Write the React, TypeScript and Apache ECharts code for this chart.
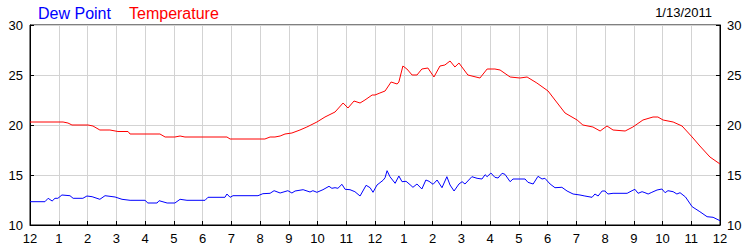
import React, { useEffect, useRef } from "react";
import * as echarts from "echarts";

const hourTicks: number[] = [0, 1, 2, 3, 4, 5, 6, 7, 8, 9, 10, 11, 12, 13, 14, 15, 16, 17, 18, 19, 20, 21, 22, 23, 24];
const yTicks: number[] = [10, 15, 20, 25, 30];

// [hour of day, °C]
const temperature: [number, number][] = [
  [0, 20.3], [1.15, 20.3], [1.32, 20.2], [1.46, 20.0], [2.02, 20.0], [2.19, 19.9], [2.43, 19.5],
  [2.78, 19.5], [3.06, 19.35], [3.41, 19.35], [3.48, 19.1], [4.52, 19.1], [4.7, 18.8], [5.04, 18.8],
  [5.22, 18.9], [5.39, 18.8], [6.85, 18.8], [6.96, 18.6], [8.17, 18.6], [8.35, 18.8], [8.52, 18.8],
  [8.7, 18.9], [8.87, 19.1], [9.11, 19.2], [9.39, 19.5], [9.63, 19.8], [9.98, 20.3], [10.26, 20.8],
  [10.61, 21.3], [10.89, 22.2], [11.06, 21.7], [11.27, 22.4], [11.48, 22.2], [11.65, 22.5],
  [11.9, 23.0], [12.0, 23.0], [12.17, 23.2], [12.35, 23.4], [12.56, 24.3], [12.77, 24.1],
  [12.83, 24.3], [12.97, 25.9], [13.11, 25.6], [13.29, 25.0], [13.46, 25.0], [13.63, 25.6],
  [13.84, 25.7], [14.05, 24.8], [14.26, 25.9], [14.43, 26.0], [14.61, 26.4], [14.78, 25.8],
  [14.92, 26.2], [15.23, 25.0], [15.65, 24.7], [15.9, 25.6], [16.17, 25.6], [16.35, 25.5],
  [16.7, 24.8], [17.04, 24.7], [17.29, 24.8], [17.63, 24.2], [18.02, 23.4], [18.26, 22.5],
  [18.61, 21.2], [19.03, 20.5], [19.23, 20.0], [19.58, 19.8], [19.83, 19.4], [20.07, 19.9],
  [20.28, 19.5], [20.7, 19.4], [20.97, 19.8], [21.32, 20.5], [21.67, 20.8], [21.84, 20.8],
  [22.02, 20.5], [22.37, 20.3], [22.68, 19.9], [23.03, 18.8], [23.3, 17.9], [23.65, 16.8], [24.0, 16.1],
];

const dewPoint: [number, number][] = [
  [0, 12.33], [0.52, 12.33], [0.63, 12.67], [0.77, 12.4], [0.87, 12.67], [0.97, 12.67], [1.11, 13.0],
  [1.39, 12.93], [1.5, 12.67], [1.84, 12.67], [1.98, 12.9], [2.16, 12.83], [2.43, 12.57],
  [2.61, 12.93], [2.96, 12.8], [3.2, 12.57], [3.48, 12.47], [4.0, 12.47], [4.1, 12.2], [4.42, 12.2],
  [4.49, 12.43], [4.77, 12.2], [5.04, 12.2], [5.22, 12.57], [5.46, 12.47], [6.09, 12.47],
  [6.19, 12.77], [6.78, 12.77], [6.85, 13.1], [6.96, 12.77], [7.06, 12.93], [7.93, 12.93],
  [8.1, 13.13], [8.35, 13.17], [8.49, 13.43], [8.7, 13.2], [8.97, 13.43], [9.11, 13.2], [9.22, 13.4],
  [9.5, 13.53], [9.74, 13.3], [9.84, 13.43], [9.98, 13.27], [10.19, 13.53], [10.4, 13.87],
  [10.5, 13.67], [10.61, 13.73], [10.71, 13.67], [10.85, 14.07], [10.96, 13.57], [11.13, 13.53],
  [11.3, 13.33], [11.48, 12.9], [11.69, 13.97], [11.83, 13.73], [11.93, 13.27], [12.07, 14.0],
  [12.28, 14.47], [12.35, 14.73], [12.42, 15.43], [12.52, 14.83], [12.7, 14.17], [12.83, 14.9],
  [12.94, 14.33], [13.08, 14.37], [13.22, 14.03], [13.32, 13.77], [13.46, 14.1], [13.63, 13.6],
  [13.77, 14.5], [13.88, 14.37], [14.02, 14.07], [14.16, 14.5], [14.33, 13.73], [14.5, 14.83],
  [14.61, 14.0], [14.75, 13.4], [14.92, 14.1], [15.03, 14.33], [15.13, 14.1], [15.37, 14.83],
  [15.55, 14.67], [15.72, 14.6], [15.83, 15.03], [15.9, 14.83], [16.03, 15.2], [16.17, 14.77],
  [16.28, 14.7], [16.42, 15.17], [16.52, 15.07], [16.7, 14.33], [16.8, 14.6], [17.22, 14.6],
  [17.32, 14.27], [17.5, 14.1], [17.67, 14.87], [17.81, 14.6], [17.91, 14.67], [18.09, 14.1],
  [18.26, 13.73], [18.5, 13.77], [18.68, 13.4], [18.89, 13.1], [19.13, 13.0], [19.3, 12.9],
  [19.55, 12.77], [19.65, 13.1], [19.76, 12.9], [19.9, 13.4], [20.0, 13.4], [20.1, 13.1],
  [20.28, 13.17], [20.77, 13.17], [20.94, 13.43], [21.04, 13.57], [21.15, 13.17], [21.29, 13.33],
  [21.39, 13.23], [21.5, 13.1], [21.63, 13.27], [21.81, 13.5], [21.98, 13.6], [22.09, 13.23],
  [22.19, 13.43], [22.37, 13.33], [22.5, 13.1], [22.61, 13.23], [22.8, 12.8], [23.03, 11.83],
  [23.3, 11.33], [23.55, 10.83], [23.76, 10.77], [24.0, 10.43],
];

const seriesNames = { dew: "Dew Point", temp: "Temperature" };
const dateLabel = "1/13/2011";

const FONT = "Liberation Sans, Arial, sans-serif";

function hourLabel(v: number): string {
  const h = Math.round(v) % 12;
  return String(h === 0 ? 12 : h);
}

export default function App() {
  const ref = useRef<HTMLDivElement>(null);
  useEffect(() => {
    if (!ref.current) return;
    const chart = echarts.init(ref.current, undefined, { renderer: "svg" });
    const yAxisBase = {
      type: "value" as const,
      min: yTicks[0],
      max: yTicks[yTicks.length - 1],
      interval: yTicks[1] - yTicks[0],
      axisLine: { show: true, lineStyle: { color: "#000", width: 1 } },
      axisTick: { show: true, inside: true, length: 4, lineStyle: { color: "#000" } },
      splitLine: { show: true, lineStyle: { color: "#d3d3d3", width: 1 } },
      axisLabel: { color: "#000", fontSize: 13, fontFamily: FONT, margin: 7 },
    };
    chart.setOption({
      animation: false,
      backgroundColor: "#fff",
      title: [
        { text: seriesNames.dew, left: 33, top: 0, textStyle: { color: "#0000ff", fontSize: 16, fontWeight: "normal", fontFamily: FONT } },
        { text: seriesNames.temp, left: 124, top: 0, textStyle: { color: "#ff0000", fontSize: 16, fontWeight: "normal", fontFamily: FONT } },
        { text: dateLabel, right: 33, top: 1, textStyle: { color: "#000", fontSize: 13, fontWeight: "normal", fontFamily: FONT } },
      ],
      grid: { left: 30, right: 30, top: 25, bottom: 25, show: true, borderColor: "#000", borderWidth: 1, backgroundColor: "transparent", containLabel: false },
      xAxis: {
        type: "value",
        min: hourTicks[0],
        max: hourTicks[hourTicks.length - 1],
        interval: 1,
        axisLine: { show: true, onZero: false, lineStyle: { color: "#000", width: 1 } },
        axisTick: { show: true, inside: true, length: 4, lineStyle: { color: "#000" } },
        splitLine: { show: true, lineStyle: { color: "#d3d3d3", width: 1 } },
        axisLabel: { color: "#000", fontSize: 13, fontFamily: FONT, margin: 7, showMinLabel: true, showMaxLabel: true, formatter: (v: number) => hourLabel(v) },
      },
      yAxis: [
        { ...yAxisBase, position: "left" },
        { ...yAxisBase, position: "right" },
      ],
      series: [
        { name: seriesNames.dew, type: "line", data: dewPoint, showSymbol: false, symbol: "none", lineStyle: { color: "#0000ff", width: 1 }, itemStyle: { color: "#0000ff" }, z: 3 },
        { name: seriesNames.temp, type: "line", data: temperature, showSymbol: false, symbol: "none", lineStyle: { color: "#ff0000", width: 1 }, itemStyle: { color: "#ff0000" }, z: 3 },
      ],
    });
    return () => chart.dispose();
  }, []);
  return <div ref={ref} style={{ position: "fixed", left: 0, top: 0, width: 750, height: 250 }} />;
}
